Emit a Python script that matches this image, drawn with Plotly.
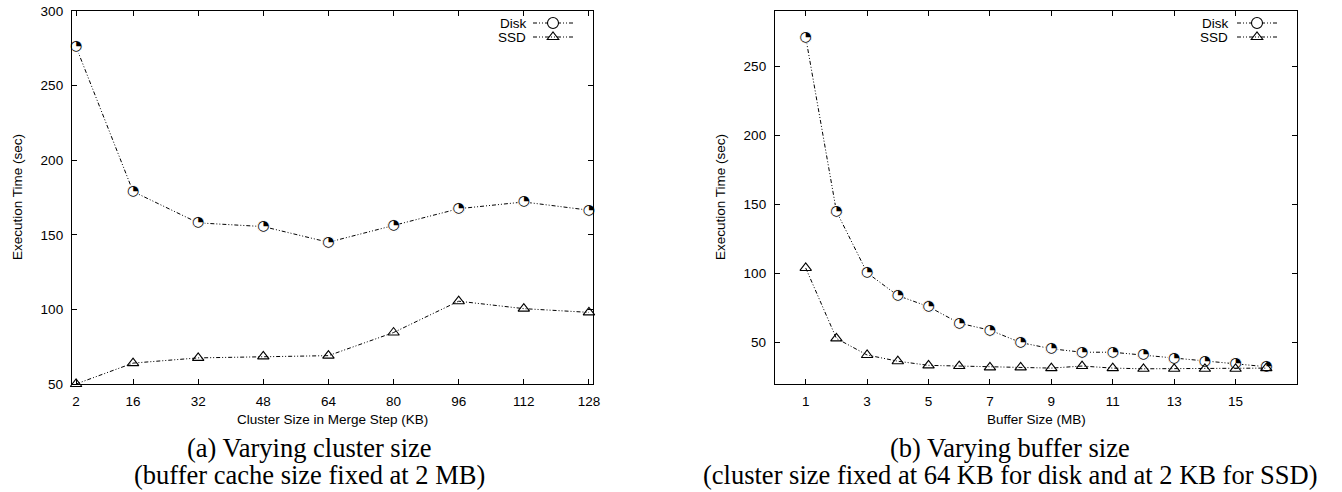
import plotly.graph_objects as go

# ---- data ----
cluster_kb = [2, 16, 32, 48, 64, 80, 96, 112, 128]
disk_a = [276, 179, 158, 155.5, 145, 156, 167.5, 172, 166.5]
ssd_a = [50, 64, 67.5, 68.5, 69, 84.5, 105.5, 100.5, 98]

buffer_mb = [1, 2, 3, 4, 5, 6, 7, 8, 9, 10, 11, 12, 13, 14, 15, 16]
disk_b = [271, 145, 100.5, 84, 76, 64, 59, 50, 45.5, 43, 43, 41, 38.5, 36.5, 35, 32.5]
ssd_b = [104, 53, 41, 36.5, 33.5, 33, 32, 32, 31.5, 33, 31.5, 31, 31, 31, 31, 31.5]

xticks_a = [2, 16, 32, 48, 64, 80, 96, 112, 128]
yticks_a = [50, 100, 150, 200, 250, 300]
xticks_b = [1, 3, 5, 7, 9, 11, 13, 15]
yticks_b = [50, 100, 150, 200, 250]

W, H = 1342, 492
DASH = "4px,2px,1px,2px,1px,2px"
LINE = dict(color="black", width=1, dash=DASH)
FONT = "Liberation Sans"
FS = 13.5

def px(x):
    return x / W

def py(y):
    return 1 - y / H

fig = go.Figure()

def add_series(x, y, xa, ya, kind, legend):
    if kind == "disk":
        fig.add_trace(go.Scatter(
            x=x, y=y, xaxis=xa, yaxis=ya, mode="lines+markers", line=LINE,
            marker=dict(symbol="circle", size=11, color="white", line=dict(color="black", width=1.1)),
            name="", legend=legend, showlegend=True, cliponaxis=False))
        fig.add_trace(go.Scatter(
            x=x, y=y, xaxis=xa, yaxis=ya, mode="markers",
            marker=dict(symbol="circle", size=13, color="white", line=dict(width=0)),
            showlegend=False, cliponaxis=False, hoverinfo="skip"))
        fig.add_trace(go.Scatter(
            x=x, y=y, xaxis=xa, yaxis=ya, mode="text", text=["\u25D4"] * len(x),
            textposition="middle center",
            textfont=dict(family="DejaVu Sans", size=14, color="black"),
            showlegend=False, cliponaxis=False, hoverinfo="skip"))
    else:
        fig.add_trace(go.Scatter(
            x=x, y=y, xaxis=xa, yaxis=ya, mode="lines+markers", line=LINE,
            marker=dict(symbol="triangle-up", size=10, color="rgba(255,255,255,0)",
                        line=dict(color="black", width=1.1)),
            name="", legend=legend, showlegend=True, cliponaxis=False))

add_series(cluster_kb, disk_a, "x", "y", "disk", "legend")
add_series(cluster_kb, ssd_a, "x", "y", "ssd", "legend2")
add_series(buffer_mb, disk_b, "x2", "y2", "disk", "legend3")
add_series(buffer_mb, ssd_b, "x2", "y2", "ssd", "legend4")

axis_common = dict(
    showline=True, linecolor="black", linewidth=1.3, mirror="allticks",
    ticks="inside", ticklen=5, tickwidth=1, tickcolor="black",
    showgrid=False, zeroline=False, ticklabelstandoff=5, automargin=False,
    tickfont=dict(family=FONT, size=FS, color="black"),
)

fig.update_layout(
    width=W, height=H,
    margin=dict(l=0, r=0, t=0, b=0, autoexpand=False),
    paper_bgcolor="white", plot_bgcolor="white",
    xaxis=dict(domain=[px(72), px(593)], range=[1, 129], tickvals=xticks_a, anchor="y", **axis_common),
    yaxis=dict(domain=[py(384), py(11)], range=[50, 300], tickvals=yticks_a, anchor="x", **axis_common),
    xaxis2=dict(domain=[px(775), px(1297)], range=[0, 17], tickvals=xticks_b, anchor="y2", **axis_common),
    yaxis2=dict(domain=[py(384), py(11)], range=[20, 290], tickvals=yticks_b, anchor="x2", **axis_common),
)

def leg(xp, yp):
    return dict(x=px(xp), y=py(yp), xanchor="left", yanchor="middle", bgcolor="rgba(0,0,0,0)",
                font=dict(family=FONT, size=11), itemwidth=40, tracegroupgap=0)

fig.update_layout(
    legend=leg(528, 23), legend2=leg(528, 37),
    legend3=leg(1232, 23), legend4=leg(1232, 37),
)

ann = []
def label(x, y, text, size=FS, xanchor="center", family=FONT, angle=0):
    ann.append(dict(x=px(x), y=py(y), xref="paper", yref="paper", text=text, showarrow=False,
                    xanchor=xanchor, yanchor="middle", textangle=angle, borderpad=0,
                    font=dict(family=family, size=size, color="black")))

label(527, 23, "Disk", xanchor="right")
label(527, 37, "SSD", xanchor="right")
label(1229, 23, "Disk", xanchor="right")
label(1229, 37, "SSD", xanchor="right")

label(332, 419, "Cluster Size in Merge Step (KB)")
label(1036, 419, "Buffer Size (MB)")
label(17, 197, "Execution Time (sec)", angle=-90)
label(720, 197, "Execution Time (sec)", angle=-90)

SERIF = "Liberation Serif"
CS = 26.5
label(309, 448, "(a) Varying cluster size", size=CS, family=SERIF)
label(309, 475, "(buffer cache size fixed at 2 MB)", size=CS, family=SERIF)
label(1010, 448, "(b) Varying buffer size", size=CS, family=SERIF)
label(1010, 475, "(cluster size fixed at 64 KB for disk and at 2 KB for SSD)", size=CS, family=SERIF)

fig.update_layout(annotations=ann)
fig.write_html("out.html")
